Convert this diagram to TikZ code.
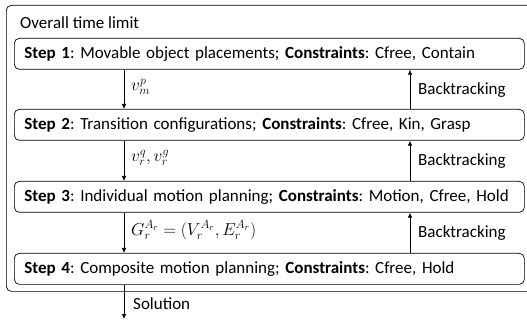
\documentclass[tikz,border=0pt]{standalone}
\usepackage{fontspec}
\setmainfont{Carlito}
\usetikzlibrary{arrows.meta,calc}
\begin{document}
\frenchspacing
\begin{tikzpicture}[x=1pt,y=-1pt,font=\fontsize{17}{19}\selectfont,
  box/.style={draw,line width=0.7pt,rounded corners=5pt},
  stepbox/.style={box,anchor=north west,minimum width=510pt,minimum height=31pt,text width=490pt,inner xsep=10pt,align=left},
  arr/.style={line width=0.7pt,-{Latex[length=5pt,width=4.5pt]}},
  lbl/.style={anchor=west,inner sep=0pt},
  mlbl/.style={lbl,font=\fontsize{18.5}{20}\selectfont}]
\useasboundingbox (0,0) rectangle (527,320);
\clip (0,0) rectangle (527,320);
\node[box,anchor=north west,minimum width=526pt,minimum height=286pt] (outer) at (6,5) {};
\node[lbl] (title) at (20,23) {Overall time limit};
\node[stepbox] (s1) at (14,38) {\mbox{\textbf{Step 1}: Movable object placements; \textbf{Constraints}: Cfree, Contain}};
\node[stepbox] (s2) at (14,109) {\mbox{\textbf{Step 2}: Transition configurations; \textbf{Constraints}: Cfree, Kin, Grasp}};
\node[stepbox] (s3) at (14,181) {\mbox{\textbf{Step 3}: Individual motion planning; \textbf{Constraints}: Motion, Cfree, Hold}};
\node[stepbox] (s4) at (14,253) {\mbox{\textbf{Step 4}: Composite motion planning; \textbf{Constraints}: Cfree, Hold}};
\coordinate (sol) at (124,319);
% down arrows
\draw[arr] ($(s1.south west)+(110,0)$) -- ($(s2.north west)+(110,0)$);
\draw[arr] ($(s2.south west)+(110,0)$) -- ($(s3.north west)+(110,0)$);
\draw[arr] ($(s3.south west)+(110,0)$) -- ($(s4.north west)+(110,0)$);
\draw[arr] ($(s4.south west)+(110,0)$) -- (sol);
% up arrows
\draw[arr] ($(s2.north west)+(396,0)$) -- ($(s1.south west)+(396,0)$);
\draw[arr] ($(s3.north west)+(396,0)$) -- ($(s2.south west)+(396,0)$);
\draw[arr] ($(s4.north west)+(396,0)$) -- ($(s3.south west)+(396,0)$);
% labels
\node[mlbl] (l1) at (131,87) {$v_m^p$};
\node[mlbl] (l2) at (131,158) {$v_r^q, v_r^g$};
\node[mlbl] (l3) at (131,230) {$G_r^{A_r} = (V_r^{A_r}, E_r^{A_r})$};
\node[lbl] (b1) at (418,90) {Backtracking};
\node[lbl] (b2) at (418,161) {Backtracking};
\node[lbl] (b3) at (418,233) {Backtracking};
\node[lbl] (soll) at (133,304) {Solution};
\end{tikzpicture}
\end{document}
